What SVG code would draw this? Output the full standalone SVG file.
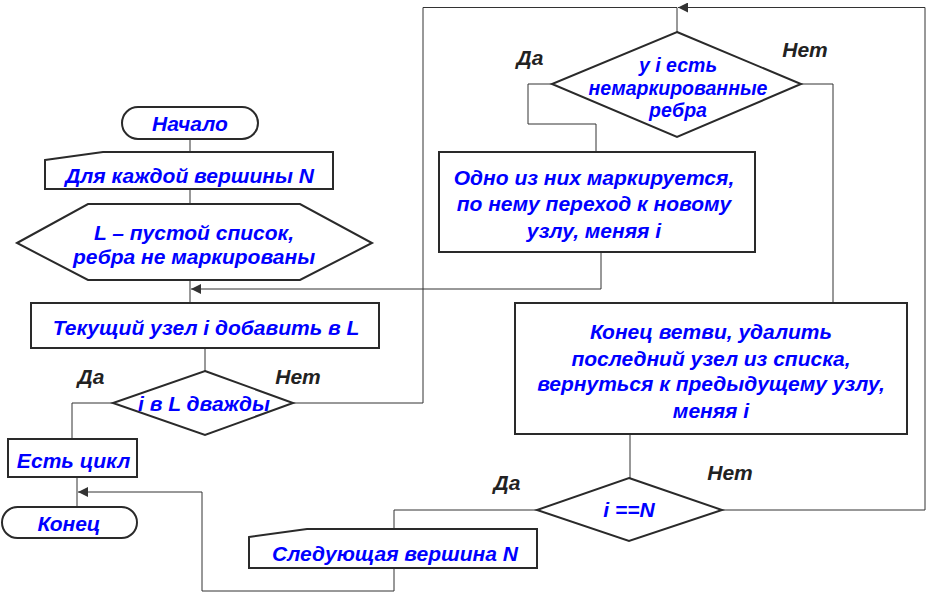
<svg xmlns="http://www.w3.org/2000/svg" width="932" height="599" viewBox="0 0 932 599">
<style>
.n{fill:#fff;stroke:#2a2a2a;stroke-width:2}
.t{font-family:"Liberation Sans",Arial,sans-serif;font-weight:bold;font-style:italic;font-size:21px;fill:#0000ff;text-anchor:middle}
.s{font-size:19.5px}
.l{font-family:"Liberation Sans",Arial,sans-serif;font-weight:bold;font-style:italic;font-size:21px;fill:#222;text-anchor:middle}
.c{fill:none;stroke:#333;stroke-width:1}
</style>
<defs>
<marker id="a" viewBox="0 0 10 10" refX="10" refY="5" markerWidth="10" markerHeight="10" markerUnits="userSpaceOnUse" orient="auto">
<path d="M0,0L10,5L0,10z" fill="#333"/>
</marker>
</defs>
<rect width="932" height="599" fill="#fff"/>
<g id="connectors">
<path class="c" d="M190,139V152"/>
<path class="c" d="M190,189V204"/>
<path class="c" d="M190,280V303"/>
<path class="c" d="M205,348V371"/>
<path class="c" d="M113,403H72V439"/>
<path class="c" d="M77,477V507"/>
<path class="c" d="M293,403H423V7.5H677"/>
<path class="c" d="M677,7.5V32"/>
<path class="c" d="M552,84H528V124H596V152"/>
<path class="c" d="M601,252V289H191" marker-end="url(#a)"/>
<path class="c" d="M801,84H833V303"/>
<path class="c" d="M630,434V478"/>
<path class="c" d="M537,510H394V529"/>
<path class="c" d="M722,510H925V7.5H678" marker-end="url(#a)"/>
<path class="c" d="M394,568V591H202V492H78" marker-end="url(#a)"/>
</g>
<g id="start">
<rect class="n" x="122" y="107" width="136" height="32" rx="16"/>
<text class="t" x="190" y="130.5">Начало</text>
</g>
<g id="loop">
<path class="n" d="M45,160L103,152H333V189H45Z"/>
<text class="t" x="189.5" y="182.5">Для каждой вершины N</text>
</g>
<g id="init">
<path class="n" d="M17,243L88,204H300L372,243L300,280H88Z"/>
<text class="t" x="194" y="239.5">L – пустой список,</text>
<text class="t" x="194" y="263.5">ребра не маркированы</text>
</g>
<g id="add">
<rect class="n" x="31" y="303" width="348" height="45"/>
<text class="t" x="206" y="334.5">Текущий узел i добавить в L</text>
</g>
<g id="twice">
<path class="n" d="M205,371L293,403L205,435L113,403Z"/>
<text class="t" x="204" y="410.5">i в L дважды</text>
</g>
<text class="l" x="91" y="384">Да</text>
<text class="l" x="298" y="384">Нет</text>
<g id="cycle">
<rect class="n" x="8" y="439" width="129" height="38"/>
<text class="t" x="73.5" y="467.5">Есть цикл</text>
</g>
<g id="end">
<rect class="n" x="2" y="507" width="135" height="31" rx="15.5"/>
<text class="t" x="69" y="530.5">Конец</text>
</g>
<g id="hasedges">
<path class="n" d="M677,32L801,84L677,137L552,84Z"/>
<text class="t s" x="678" y="72">у i есть</text>
<text class="t s" x="678" y="94.5">немаркированные</text>
<text class="t s" x="678" y="117">ребра</text>
</g>
<text class="l" x="530" y="65">Да</text>
<text class="l" x="805" y="57">Нет</text>
<g id="mark">
<rect class="n" x="439" y="152" width="316" height="100"/>
<text class="t" x="594" y="184.5">Одно из них маркируется,</text>
<text class="t" x="594" y="210.5">по нему переход к новому</text>
<text class="t" x="594" y="237.5">узлу, меняя i</text>
</g>
<g id="back">
<rect class="n" x="515" y="303" width="392" height="131"/>
<text class="t" x="711" y="338.5">Конец ветви, удалить</text>
<text class="t" x="711" y="365.5">последний узел из списка,</text>
<text class="t" x="711" y="390.5">вернуться к предыдущему узлу,</text>
<text class="t" x="711" y="417.5">меняя i</text>
</g>
<g id="ieqn">
<path class="n" d="M629,478L722,510L629,541L537,510Z"/>
<text class="t" x="629" y="517">i ==N</text>
</g>
<text class="l" x="507" y="490">Да</text>
<text class="l" x="730" y="480">Нет</text>
<g id="next">
<path class="n" d="M249,537L307,529H537V568H249Z"/>
<text class="t" x="395" y="560.5">Следующая вершина N</text>
</g>
</svg>
